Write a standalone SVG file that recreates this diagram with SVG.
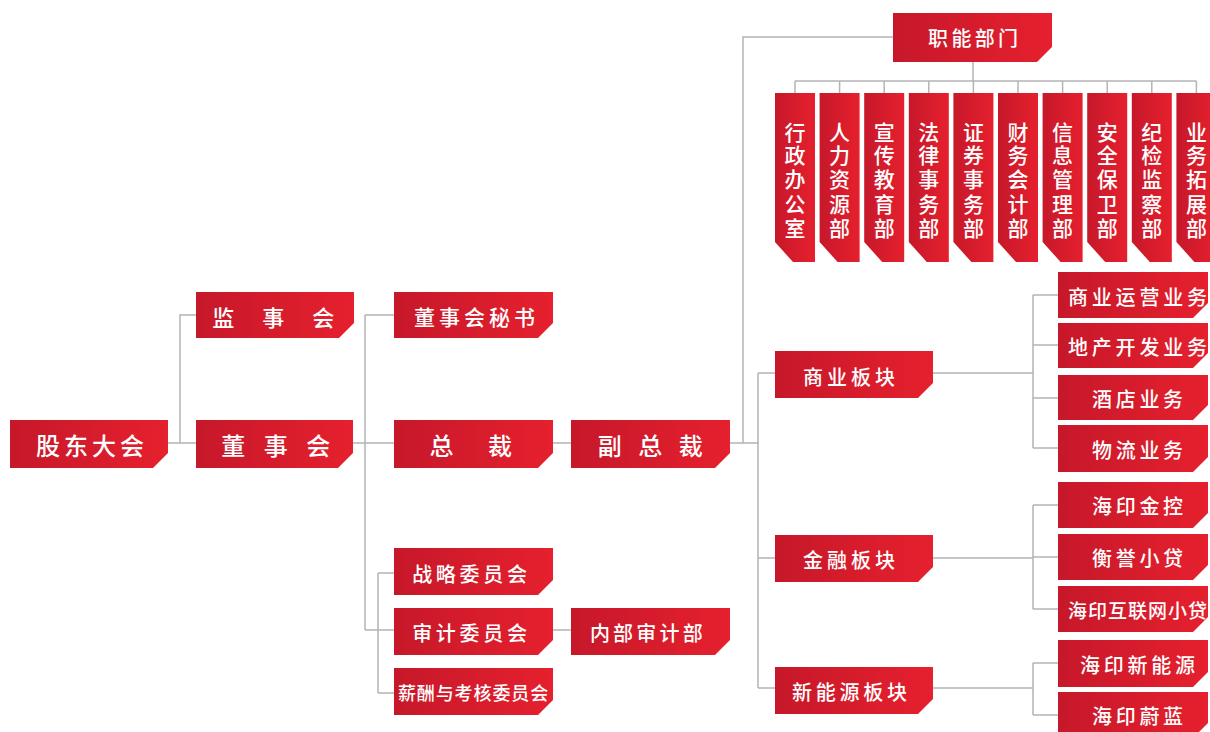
<svg xmlns="http://www.w3.org/2000/svg" width="1210" height="732" viewBox="0 0 1210 732">
<defs>
<linearGradient id="g" x1="0" y1="0" x2="1" y2="0">
<stop offset="0" stop-color="#c6182a"/>
<stop offset="1" stop-color="#e6202e"/>
</linearGradient>
<style>
.b{fill:url(#g)}
.t{font-family:"Noto Sans CJK SC","Noto Sans",sans-serif;font-weight:500;fill:#fff;text-anchor:middle;dominant-baseline:central}
.c{fill:none;stroke:#b4b4b4;stroke-width:1.5}
</style>
</defs>
<rect width="1210" height="732" fill="#fff"/>
<g id="connectors" class="c">
<path d="M168 443H196M180 443V315H196"/>
<path d="M353 443H394M365 315V630M365 315H394M365 630H394"/>
<path d="M378 573V693M378 573H394M378 693H394"/>
<path d="M553 443H571M553 630H571"/>
<path d="M730 443H758M743 443V37H893M758 373V688M758 373H775M758 558H775M758 688H775"/>
<path d="M973 62V81M795 81H1196.4"/>
<path d="M795 81V93M839.6 81V93M884.2 81V93M928.8 81V93M973.4 81V93M1018 81V93M1062.6 81V93M1107.2 81V93M1151.8 81V93M1196.4 81V93"/>
<path d="M933 373H1033M1033 295V448M1033 295H1058M1033 345H1058M1033 398H1058M1033 448H1058"/>
<path d="M933 558H1033M1033 505V609M1033 505H1058M1033 557H1058M1033 609H1058"/>
<path d="M933 688H1033M1033 663V715M1033 663H1058M1033 715H1058"/>
</g>
<g id="n-gudong"><path class="b" d="M10 420H168V453L153 468H10Z"/><text class="t" x="92" y="444" font-size="24" letter-spacing="4">股东大会</text></g>
<g id="n-jianshi"><path class="b" d="M196 292H354V323L339 338H196Z"/><text class="t" x="279" y="316" font-size="22" letter-spacing="11.5">监 事 会</text></g>
<g id="n-dongshi"><path class="b" d="M196 420H353V453L338 468H196Z"/><text class="t" x="279" y="444" font-size="24" letter-spacing="6.5">董 事 会</text></g>
<g id="n-mishu"><path class="b" d="M394 292H553V323L538 338H394Z"/><text class="t" x="476.5" y="316" font-size="21" letter-spacing="4">董事会秘书</text></g>
<g id="n-zongcai"><path class="b" d="M394 420H553V453L538 468H394Z"/><text class="t" x="478" y="444" font-size="24" letter-spacing="14.5">总 裁</text></g>
<g id="n-fuzong"><path class="b" d="M571 420H730V453L715 468H571Z"/><text class="t" x="653" y="444" font-size="24" letter-spacing="5.5">副 总 裁</text></g>
<g id="n-zhanlue"><path class="b" d="M394 548H553V580L538 595H394Z"/><text class="t" x="471.5" y="573" font-size="20" letter-spacing="3.75">战略委员会</text></g>
<g id="n-shenji"><path class="b" d="M394 608H553V640L538 655H394Z"/><text class="t" x="471.5" y="632" font-size="20" letter-spacing="3.75">审计委员会</text></g>
<g id="n-xinchou"><path class="b" d="M394 668H553V700L538 715H394Z"/><text class="t" x="473.5" y="692" font-size="18" letter-spacing="0.9">薪酬与考核委员会</text></g>
<g id="n-neibu"><path class="b" d="M571 608H730V640L715 655H571Z"/><text class="t" x="648" y="632" font-size="20" letter-spacing="3.25">内部审计部</text></g>
<g id="n-zhineng"><path class="b" d="M893 13H1052V47L1037 62H893Z"/><text class="t" x="974.7" y="37" font-size="20" letter-spacing="3.3">职能部门</text></g>
<g id="n-shangye"><path class="b" d="M775 351H933V383L918 398H775Z"/><text class="t" x="851" y="376" font-size="20" letter-spacing="4">商业板块</text></g>
<g id="n-jinrong"><path class="b" d="M775 535H933V567L918 582H775Z"/><text class="t" x="851" y="559" font-size="20" letter-spacing="4">金融板块</text></g>
<g id="n-xinnengyuan"><path class="b" d="M775 667H933V699L918 714H775Z"/><text class="t" x="851.4" y="691" font-size="20" letter-spacing="3.75">新能源板块</text></g>
<g id="n-v1"><path class="b" d="M775 93H815V262H793L775 242Z"/><text class="t" font-size="21" x="795 795 795 795 795" y="131 154 178 203 227">行政办公室</text></g>
<g id="n-v2"><path class="b" d="M819.6 93H859.6V262H837.6L819.6 242Z"/><text class="t" font-size="21" x="839.6 839.6 839.6 839.6 839.6" y="131 154 178 203 227">人力资源部</text></g>
<g id="n-v3"><path class="b" d="M864.2 93H904.2V262H882.2L864.2 242Z"/><text class="t" font-size="21" x="884.2 884.2 884.2 884.2 884.2" y="131 154 178 203 227">宣传教育部</text></g>
<g id="n-v4"><path class="b" d="M908.8 93H948.8V262H926.8L908.8 242Z"/><text class="t" font-size="21" x="928.8 928.8 928.8 928.8 928.8" y="131 154 178 203 227">法律事务部</text></g>
<g id="n-v5"><path class="b" d="M953.4 93H993.4V262H971.4L953.4 242Z"/><text class="t" font-size="21" x="973.4 973.4 973.4 973.4 973.4" y="131 154 178 203 227">证券事务部</text></g>
<g id="n-v6"><path class="b" d="M998 93H1038V262H1016L998 242Z"/><text class="t" font-size="21" x="1018 1018 1018 1018 1018" y="131 154 178 203 227">财务会计部</text></g>
<g id="n-v7"><path class="b" d="M1042.6 93H1082.6V262H1060.6L1042.6 242Z"/><text class="t" font-size="21" x="1062.6 1062.6 1062.6 1062.6 1062.6" y="131 154 178 203 227">信息管理部</text></g>
<g id="n-v8"><path class="b" d="M1087.2 93H1127.2V262H1105.2L1087.2 242Z"/><text class="t" font-size="21" x="1107.2 1107.2 1107.2 1107.2 1107.2" y="131 154 178 203 227">安全保卫部</text></g>
<g id="n-v9"><path class="b" d="M1131.8 93H1171.8V262H1149.8L1131.8 242Z"/><text class="t" font-size="21" x="1151.8 1151.8 1151.8 1151.8 1151.8" y="131 154 178 203 227">纪检监察部</text></g>
<g id="n-v10"><path class="b" d="M1176.4 93H1216.4V262H1194.4L1176.4 242Z"/><text class="t" font-size="21" x="1196.4 1196.4 1196.4 1196.4 1196.4" y="131 154 178 203 227">业务拓展部</text></g>
<g id="n-r1"><path class="b" d="M1058 272H1208V303L1193 318H1058Z"/><text class="t" x="1139.4" y="296" font-size="20" letter-spacing="3.8">商业运营业务</text></g>
<g id="n-r2"><path class="b" d="M1058 323H1208V353L1193 368H1058Z"/><text class="t" x="1139.4" y="346" font-size="20" letter-spacing="3.8">地产开发业务</text></g>
<g id="n-r3"><path class="b" d="M1058 375H1208V405L1193 420H1058Z"/><text class="t" x="1139.4" y="398" font-size="20" letter-spacing="3.7">酒店业务</text></g>
<g id="n-r4"><path class="b" d="M1058 425H1208V457L1193 472H1058Z"/><text class="t" x="1139.4" y="449" font-size="20" letter-spacing="3.7">物流业务</text></g>
<g id="n-r5"><path class="b" d="M1058 482H1208V513L1193 528H1058Z"/><text class="t" x="1139.4" y="505" font-size="20" letter-spacing="3.7">海印金控</text></g>
<g id="n-r6"><path class="b" d="M1058 534H1208V565L1193 580H1058Z"/><text class="t" x="1139.4" y="557" font-size="20" letter-spacing="3.7">衡誉小贷</text></g>
<g id="n-r7"><path class="b" d="M1058 586H1208V617L1193 632H1058Z"/><text class="t" x="1138" y="609" font-size="19" letter-spacing="1">海印互联网小贷</text></g>
<g id="n-r8"><path class="b" d="M1058 640H1208V672L1193 687H1058Z"/><text class="t" x="1139.4" y="664" font-size="20" letter-spacing="3.75">海印新能源</text></g>
<g id="n-r9"><path class="b" d="M1058 692H1208V723L1193 738H1058Z"/><text class="t" x="1139.4" y="715" font-size="20" letter-spacing="3.7">海印蔚蓝</text></g>
</svg>
